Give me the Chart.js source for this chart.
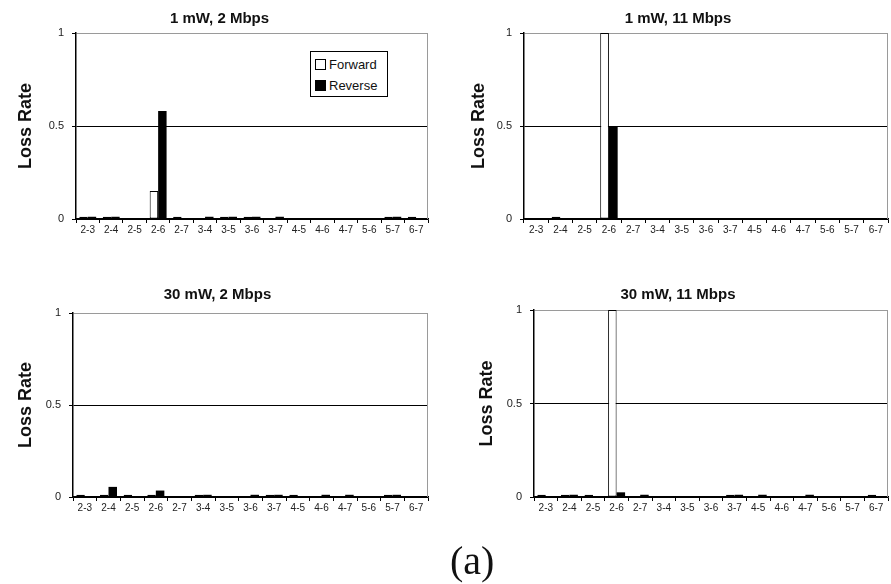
<!DOCTYPE html>
<html>
<head>
<meta charset="utf-8">
<script src="https://cdn.jsdelivr.net/npm/chart.js@4.4.1/dist/chart.umd.min.js"></script>
<style>
  body { margin: 0; background: #fff; width: 891px; height: 584px; position: relative; overflow: hidden; }
  canvas { position: absolute; }
  #legend {
    position: absolute; left: 310px; top: 51px; width: 78px; height: 46px;
    box-sizing: border-box; border: 1.5px solid #000; background: #fff;
    font: 13px "Liberation Sans", Arial, sans-serif; color: #111; padding: 2px 0 0 4px;
  }
  #legend .item { height: 21px; line-height: 21px; white-space: nowrap; }
  #legend .sw { display: inline-block; width: 9px; height: 9px; margin-right: 3px; vertical-align: -1px; border: 1px solid #000; }
  #legend .fwd { background: #fff; }
  #legend .rev { background: #000; }
  #caption {
    position: absolute; left: 450px; top: 537px; line-height: 40px;
    font: 40px "Liberation Serif", "Times New Roman", serif; color: #111;
  }
</style>
</head>
<body>
<canvas id="c1" width="438" height="262" style="left:0;top:0"></canvas>
<canvas id="c2" width="423" height="262" style="left:468px;top:0"></canvas>
<canvas id="c3" width="438" height="262" style="left:0;top:280px"></canvas>
<canvas id="c4" width="423" height="262" style="left:468px;top:280px"></canvas>
<div id="legend">
  <div class="item"><span class="sw fwd"></span>Forward</div>
  <div class="item"><span class="sw rev"></span>Reverse</div>
</div>
<div id="caption">(a)</div>
<script>
// node pairs on the x axis
const links = ["2-3", "2-4", "2-5", "2-6", "2-7", "3-4", "3-5", "3-6", "3-7", "4-5", "4-6", "4-7", "5-6", "5-7", "6-7"];

// loss rates
const fwd1mw2 = [0.012, 0.012, 0, 0.15, 0.012, 0, 0.012, 0.012, 0, 0, 0, 0, 0, 0.012, 0.012];
const rev1mw2 = [0.012, 0.012, 0, 0.58, 0, 0.012, 0.012, 0.012, 0.012, 0, 0, 0, 0, 0.012, 0];

const fwd1mw11 = [0, 0.012, 0, 1, 0, 0, 0, 0, 0, 0, 0, 0, 0, 0, 0];
const rev1mw11 = [0, 0, 0, 0.5, 0, 0, 0, 0, 0, 0, 0, 0, 0, 0, 0];

const fwd30mw2 = [0.012, 0.012, 0.012, 0.012, 0, 0.012, 0, 0, 0.012, 0.012, 0, 0, 0, 0.012, 0];
const rev30mw2 = [0, 0.055, 0, 0.035, 0, 0.012, 0, 0.012, 0.012, 0, 0.012, 0.012, 0, 0.012, 0];

const fwd30mw11 = [0.012, 0.012, 0.012, 1, 0, 0, 0, 0, 0.012, 0, 0, 0, 0, 0, 0.012];
const rev30mw11 = [0, 0.012, 0, 0.025, 0.012, 0, 0, 0, 0.012, 0.012, 0, 0.012, 0, 0, 0];

const yTicks = [0, 0.5, 1];

Chart.defaults.font.family = '"Liberation Sans", Arial, sans-serif';
Chart.defaults.color = "#222";

// grey outline on the right side of the plot area
const frame = {
  id: "frame",
  beforeDatasetsDraw(chart) {
    const { ctx, chartArea: a } = chart;
    ctx.save();
    ctx.strokeStyle = "#9a9a9a";
    ctx.lineWidth = 1;
    ctx.beginPath();
    ctx.moveTo(Math.round(a.right) - 0.5, a.top);
    ctx.lineTo(Math.round(a.right) - 0.5, a.bottom);
    ctx.stroke();
    ctx.restore();
  },
};

function makePanel(id, title, forward, reverse, box) {
  return new Chart(document.getElementById(id), {
    type: "bar",
    data: {
      labels: links,
      datasets: [
        { label: "Forward", data: forward, backgroundColor: "#fff", borderColor: "#000", borderWidth: 1, borderSkipped: false },
        { label: "Reverse", data: reverse, backgroundColor: "#000", borderColor: "#000", borderWidth: 0 },
      ],
    },
    options: {
      responsive: false,
      animation: false,
      categoryPercentage: 0.72,
      barPercentage: 1,
      layout: { padding: { left: box.padLeft, right: box.padRight, top: 0, bottom: 0 } },
      plugins: {
        legend: { display: false },
        tooltip: { enabled: false },
        title: {
          display: true,
          text: title,
          color: "#111",
          font: { size: 15, weight: "bold" },
          padding: { top: box.titleTop, bottom: box.titleBottom },
        },
      },
      scales: {
        x: {
          grid: { display: true, drawOnChartArea: false, offset: true, color: "#000", tickLength: 4 },
          border: { color: "#000", width: 1.5 },
          ticks: { font: { size: 10 }, padding: 1, maxRotation: 0, autoSkip: false },
          afterFit: (s) => { s.height = box.xHeight; },
        },
        y: {
          min: 0,
          max: 1,
          afterBuildTicks: (s) => { s.ticks = yTicks.map((v) => ({ value: v })); },
          grid: {
            color: (c) => (c.tick && c.tick.value === 1 ? "#9a9a9a" : "#000"),
            tickColor: "#000",
            tickLength: 4,
          },
          border: { color: "#000", width: 1.5 },
          ticks: { font: { size: 11 }, padding: 8, callback: (v) => String(v) },
          title: {
            display: true,
            text: "Loss Rate",
            color: "#111",
            font: { size: 18, weight: "bold" },
            padding: { top: box.yTitlePad, bottom: 0 },
          },
          afterFit: (s) => { s.width = box.yWidth; },
        },
      },
    },
    plugins: [frame],
  });
}

makePanel("c1", "1 mW, 2 Mbps", fwd1mw2, rev1mw2,
  { padLeft: 11, padRight: 10, titleTop: 10, titleBottom: 5, xHeight: 43, yWidth: 65, yTitlePad: 4 });
makePanel("c2", "1 mW, 11 Mbps", fwd1mw11, rev1mw11,
  { padLeft: 0, padRight: 3, titleTop: 10, titleBottom: 5, xHeight: 43, yWidth: 56, yTitlePad: 0 });
makePanel("c3", "30 mW, 2 Mbps", fwd30mw2, rev30mw2,
  { padLeft: 7, padRight: 10, titleTop: 6, titleBottom: 9, xHeight: 45, yWidth: 66, yTitlePad: 8 });
makePanel("c4", "30 mW, 11 Mbps", fwd30mw11, rev30mw11,
  { padLeft: 0, padRight: 3, titleTop: 6, titleBottom: 6, xHeight: 45, yWidth: 66, yTitlePad: 8 });
</script>
</body>
</html>
